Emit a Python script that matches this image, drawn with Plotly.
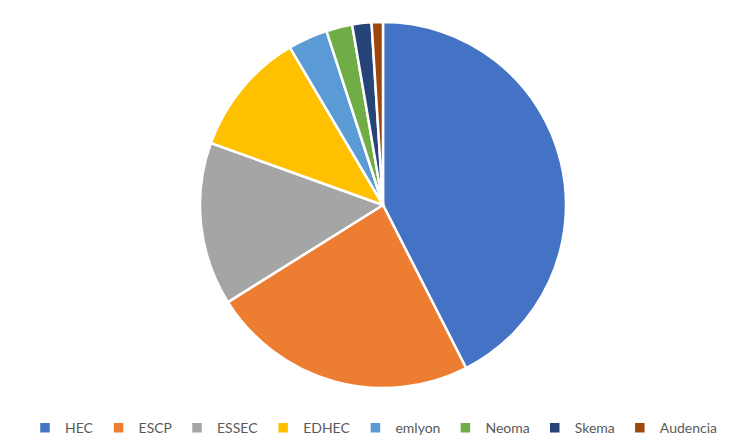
import plotly.graph_objects as go

schools = ['HEC', 'ESCP', 'ESSEC', 'EDHEC', 'emlyon', 'Neoma', 'Skema', 'Audencia']
shares = [42.5, 23.6, 14.4, 11.0, 3.5, 2.3, 1.7, 1.0]
colors = ['#4472C4', '#ED7D31', '#A5A5A5', '#FFC000', '#5B9BD5', '#70AD47', '#264478', '#9E480E']

fig = go.Figure()

# page body adds an 8px offset, so the domain is shifted up/left to compensate
fig.add_trace(go.Pie(
    labels=schools, values=shares,
    sort=False, direction='clockwise', rotation=0,
    textinfo='none', hoverinfo='label+percent',
    marker=dict(colors=colors, line=dict(color='white', width=2.5)),
    domain=dict(x=[192/732, 558/732], y=[65/445, 431/445])))

fig.update_layout(
    width=732, height=445,
    margin=dict(l=0, r=0, t=0, b=0, autoexpand=False),
    paper_bgcolor='white',
    font=dict(family='Lato', size=14, color='#595959'),
    showlegend=True,
    legend=dict(orientation='h', x=0.5, xanchor='center', y=0.056, yanchor='middle',
                itemwidth=30, font=dict(size=14, color='#595959')))

fig.write_html('out.html')
